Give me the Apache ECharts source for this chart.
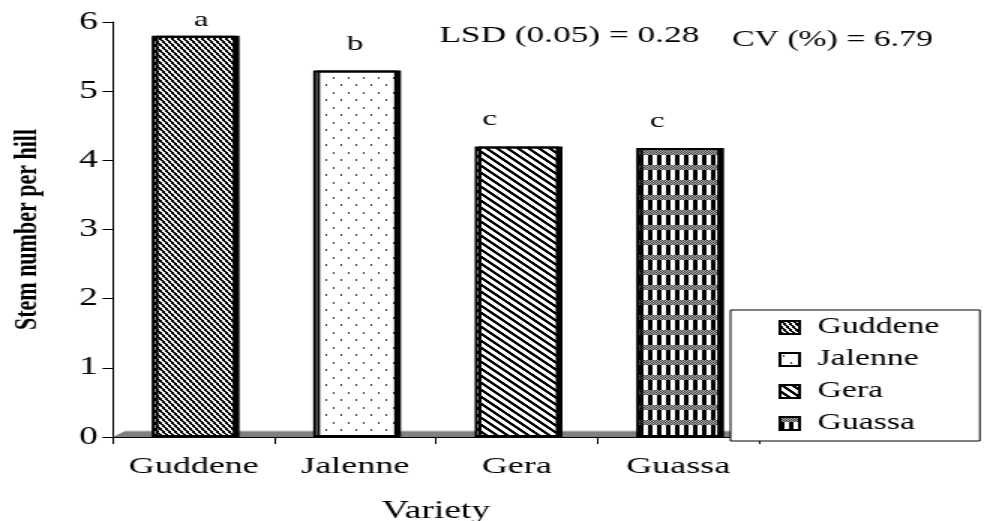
<!DOCTYPE html>
<html>
<head>
<meta charset="utf-8">
<script src="https://cdn.jsdelivr.net/npm/echarts@6/dist/echarts.min.js"></script>
<style>
html,body{margin:0;padding:0;background:#fff;overflow:hidden;width:989px;height:521px;}
#c{width:659px;height:521px;transform:scaleX(1.5);transform-origin:0 0;}
</style>
</head>
<body>
<div id="c"></div>
<script>
const categories = ['Guddene', 'Jalenne', 'Gera', 'Guassa'];
const values = [5.8, 5.3, 4.2, 4.18];
const letters = ['a', 'b', 'c', 'c'];
const letterOffsets = [[5, 0], [0, 0], [-18, 0], [-14, 0]];
const letterDistance = [5, 15, 16, 16];
const yAxisName = 'Stem number per hill';
const xAxisName = 'Variety';
const noteLSD = 'LSD (0.05) = 0.28';
const noteCV = 'CV (%) = 6.79';

const FONT = "'Liberation Serif','Times New Roman',serif";

function tile(w, h, fn) {
  const c = document.createElement('canvas');
  c.width = w; c.height = h;
  const ctx = c.getContext('2d');
  const img = ctx.createImageData(w, h);
  for (let y = 0; y < h; y++) {
    for (let x = 0; x < w; x++) {
      const v = fn(x, y);
      const i = (y * w + x) * 4;
      img.data[i] = v; img.data[i + 1] = v; img.data[i + 2] = v; img.data[i + 3] = 255;
    }
  }
  ctx.putImageData(img, 0, 0);
  return c;
}
function mod(a, m) { return ((a % m) + m) % m; }

const patGuddene = tile(4, 6, (x, y) => mod(1.5 * (x + 0.5) - (y + 0.5), 6) < 3 ? 0 : 255);
const patJalenne = tile(10, 15, (x, y) => ((x === 2 && (y === 2 || y === 3)) || (x === 7 && (y === 9 || y === 10))) ? 60 : 255);
const patGera = tile(7, 7, (x, y) => mod(x - y, 7) < 3 ? 0 : 255);
const patGuassa = tile(6, 15, (x, y) => {
  if (y < 5) return (x + y) % 2 ? 60 : 180;
  return x < 3 ? 0 : 255;
});
const patterns = [patGuddene, patJalenne, patGera, patGuassa];

const series = categories.map((name, i) => ({
  name: name,
  type: 'bar',
  stack: 'v',
  barWidth: '52%',
  itemStyle: {
    color: { image: patterns[i], repeat: 'repeat' },
    borderColor: '#000',
    borderWidth: 2,
    shadowColor: '#000',
    shadowOffsetX: 2.5,
    shadowOffsetY: 0,
    shadowBlur: 0
  },
  data: categories.map((c, j) => j === i ? {
    value: values[i],
    label: {
      show: true,
      position: 'top',
      distance: letterDistance[i],
      offset: letterOffsets[i],
      formatter: letters[i],
      color: '#000',
      fontFamily: FONT,
      fontSize: 22
    }
  } : '-')
}));

const chart = echarts.init(document.getElementById('c'), null, { renderer: 'canvas' });
const gridLeft = 75.3, gridRight = 153, gridTop = 22, gridBottom = 84;
const option = {
  animation: false,
  backgroundColor: '#fff',
  grid: { left: gridLeft, right: gridRight, top: gridTop, bottom: gridBottom, containLabel: false, outerBoundsMode: 'none' },
  legend: {
    orient: 'vertical',
    left: 487,
    top: 310,
    padding: [6, 27, 6, 32],
    itemGap: 9,
    itemWidth: 13,
    itemHeight: 13,
    backgroundColor: '#fff',
    borderColor: '#000',
    borderWidth: 1,
    z: 10,
    icon: 'rect',
    textStyle: { fontFamily: FONT, fontSize: 22.5, color: '#000', padding: [0, 0, 0, 7] },
    data: categories
  },
  xAxis: {
    type: 'category',
    data: categories,
    name: xAxisName,
    nameLocation: 'middle',
    nameGap: 62,
    nameTextStyle: { fontFamily: FONT, fontSize: 25, color: '#000' },
    axisLine: { lineStyle: { color: '#000', width: 1 } },
    axisTick: { show: true, length: 7, interval: 0, lineStyle: { color: '#000' } },
    axisLabel: { fontFamily: FONT, fontSize: 24, color: '#000', margin: 18, interval: 0 },
    splitLine: { show: false }
  },
  yAxis: {
    type: 'value',
    min: 0,
    max: 6,
    interval: 1,
    name: yAxisName,
    nameLocation: 'middle',
    nameGap: 46,
    nameTextStyle: { fontFamily: FONT, fontSize: 22, fontWeight: 'bold', color: '#000' },
    axisLine: { show: true, lineStyle: { color: '#000', width: 1 } },
    axisTick: { show: true, length: 7, lineStyle: { color: '#000' } },
    axisLabel: { fontFamily: FONT, fontSize: 25, color: '#000', margin: 10 },
    splitLine: { show: false }
  },
  series: series
};
chart.setOption(option);

const y0 = chart.convertToPixel({ yAxisIndex: 0 }, 0);
const xL = gridLeft, xR = 659 - gridRight, depth = 8, rise = 6;
chart.setOption({
  graphic: [
    {
      type: 'polygon',
      z: 1,
      shape: { points: [[xL, y0], [xL + depth, y0 - rise], [xR + depth, y0 - rise], [xR, y0]] },
      style: { fill: '#808080', stroke: null }
    },
    {
      type: 'line',
      z: 1,
      shape: { x1: xL + depth, y1: y0 - rise, x2: xR + depth, y2: y0 - rise },
      style: { stroke: '#c8c8c8', lineWidth: 1 }
    },
    {
      type: 'text',
      x: 293, y: 36,
      style: { text: noteLSD, font: "23.5px 'Liberation Serif','Times New Roman',serif", fill: '#000', textVerticalAlign: 'middle' }
    },
    {
      type: 'text',
      x: 488, y: 40,
      style: { text: noteCV, font: "22.5px 'Liberation Serif','Times New Roman',serif", fill: '#000', textVerticalAlign: 'middle' }
    }
  ]
});
</script>
</body>
</html>
